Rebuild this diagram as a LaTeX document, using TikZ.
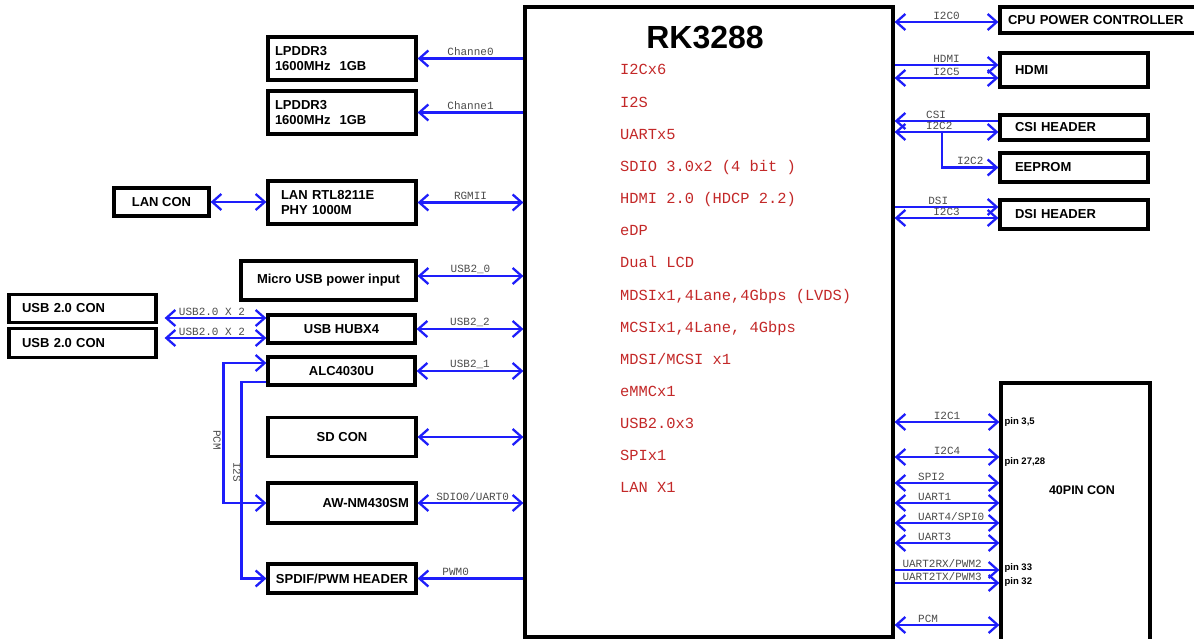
\documentclass[tikz,border=0pt]{standalone}
\usepackage{fontspec}
\setmainfont{Liberation Sans}
\newfontfamily\busfont{Liberation Mono}
\usepackage{xcolor}
\usepackage{tikz}
\usetikzlibrary{arrows.meta}
\definecolor{busblue}{RGB}{30,30,250}
\definecolor{featred}{RGB}{195,40,40}
\definecolor{lblgray}{RGB}{75,75,75}
\tikzstyle{blk} = [draw=black, line width=3.2pt, inner sep=0pt, font=\fontsize{13}{15}\selectfont\bfseries]
\tikzstyle{bus} = [draw=busblue, line width=2.3pt]
\tikzstyle{lbl} = [font=\busfont\fontsize{11}{12}\selectfont, text=lblgray, inner sep=1.5pt]
\tikzstyle{feat} = [font=\busfont\fontsize{15.4}{17}\selectfont, text=featred, anchor=base west, inner sep=0pt]
\tikzstyle{pinlbl} = [font=\fontsize{9.5}{11}\selectfont\bfseries, anchor=west, inner sep=5pt]

\begin{document}
\begin{tikzpicture}[x=1pt, y=-1pt, >={Straight Barb[length=9pt,width=16pt]}]
  \useasboundingbox (0,0) rectangle (1194,639);

  \node[blk, minimum width=368pt, minimum height=630pt] (rk) at (709,322) {};
  \node[font=\fontsize{32}{34}\selectfont\bfseries] (rkname) at (705,38) {RK3288};
  \foreach \t [count=\i from 0] in {I2Cx6, I2S, UARTx5, {SDIO 3.0x2 (4 bit )}, {HDMI 2.0 (HDCP 2.2)}, eDP, {Dual LCD},
      {MDSIx1,4Lane,4Gbps (LVDS)}, {MCSIx1,4Lane, 4Gbps}, {MDSI/MCSI x1}, eMMCx1, USB2.0x3, SPIx1, {LAN X1}}
    \node[feat] (f\i) at (620,75+32.15*\i) {\t};

  \node[blk, minimum width=148pt, minimum height=43pt, text width=134pt, inner xsep=7pt, align=left] (ddr0) at (342,58.5) {LPDDR3\\1600MHz\hspace{9pt}1GB};
  \node[blk, minimum width=148pt, minimum height=43pt, text width=134pt, inner xsep=7pt, align=left] (ddr1) at (342,112.5) {LPDDR3\\1600MHz\hspace{9pt}1GB};
  \node[blk, minimum width=148pt, minimum height=43pt, text width=122pt, inner xsep=13pt, align=left] (lanphy) at (342,202.5) {LAN RTL8211E\\PHY 1000M};
  \node[blk, minimum width=95pt, minimum height=28pt] (lancon) at (161.5,202) {LAN CON};
  \node[blk, minimum width=175pt, minimum height=39pt] (microusb) at (328.5,280.5) {Micro USB power input};
  \node[blk, minimum width=147pt, minimum height=28pt, text width=121pt, inner xsep=13pt, align=left] (usb1) at (82.5,308.5) {USB 2.0 CON};
  \node[blk, minimum width=147pt, minimum height=29pt, text width=121pt, inner xsep=13pt, align=left] (usb2) at (82.5,343) {USB 2.0 CON};
  \node[blk, minimum width=147pt, minimum height=28pt] (hub) at (341.5,329) {USB HUBX4};
  \node[blk, minimum width=147pt, minimum height=28pt] (alc) at (341.5,371) {ALC4030U};
  \node[blk, minimum width=148pt, minimum height=39pt] (sdcon) at (342,437) {SD CON};
  \node[blk, minimum width=148pt, minimum height=40pt, text width=134pt, inner xsep=7pt, align=right] (aw) at (342,503) {AW-NM430SM};
  \node[blk, minimum width=148pt, minimum height=29pt] (spdif) at (342,578.5) {SPDIF/PWM HEADER};

  \node[blk, minimum width=215pt, minimum height=26pt, text width=199pt, inner xsep=8pt, align=left] (cpu) at (1107.5,20) {CPU POWER CONTROLLER};
  \node[blk, minimum width=148pt, minimum height=34pt, text width=118pt, inner xsep=15pt, align=left] (hdmi) at (1074,70) {HDMI};
  \node[blk, minimum width=148pt, minimum height=25pt, text width=118pt, inner xsep=15pt, align=left] (csi) at (1074,127.5) {CSI HEADER};
  \node[blk, minimum width=148pt, minimum height=29pt, text width=118pt, inner xsep=15pt, align=left] (eeprom) at (1074,167.5) {EEPROM};
  \node[blk, minimum width=148pt, minimum height=29pt, text width=118pt, inner xsep=15pt, align=left] (dsi) at (1074,214.5) {DSI HEADER};
  \node[blk, minimum width=149pt, minimum height=297pt] (pin) at (1075.5,531.5) {};
  \node[font=\fontsize{12.5}{14}\selectfont\bfseries] (pinname) at (1082,490) {40PIN CON};

  % left side
  \draw[bus,->] (ddr0.east -| rk.west) -- node[lbl,above]{Channe0} (ddr0.east);
  \draw[bus,->] (ddr1.east -| rk.west) -- node[lbl,above]{Channe1} (ddr1.east);
  \draw[bus,<->] (lancon.east) -- (lanphy.west |- lancon.east);
  \draw[bus,<->] (lanphy.east) -- node[lbl,above]{RGMII} (lanphy.east -| rk.west);
  \draw[bus,<->] (microusb.east |- 0,276) -- node[lbl,above]{USB2\_0} (rk.west |- 0,276);
  \draw[bus,<->,shorten <=7pt] (usb1.east |- 0,318) -- node[lbl,above]{USB2.0 X 2} (hub.west |- 0,318);
  \draw[bus,<->,shorten <=7pt] (usb2.east |- 0,338) -- node[lbl,above]{USB2.0 X 2} (hub.west |- 0,338);
  \draw[bus,<->] (hub.east) -- node[lbl,above]{USB2\_2} (hub.east -| rk.west);
  \draw[bus,<->] (alc.east) -- node[lbl,above]{USB2\_1} (alc.east -| rk.west);
  \draw[bus,<->] (sdcon.east) -- (sdcon.east -| rk.west);
  \draw[bus,<->] (aw.east) -- node[lbl,above,pos=0.52]{SDIO0/UART0} (aw.east -| rk.west);
  \draw[bus,->] (spdif.east -| rk.west) -- node[lbl,above,pos=0.64]{PWM0} (spdif.east);
  \draw[bus,<->] (alc.west |- 0,363) -- ++(-43,0) |- (aw.west);
  \draw[bus,->] (alc.west |- 0,382) -- ++(-25,0) |- (spdif.west);
  \node[lbl, rotate=-90] (pcmname) at (217,440) {PCM};
  \node[lbl, rotate=-90] (i2sname) at (237,472) {I2S};

  % right side
  \draw[bus,<->] (rk.east |- 0,22) -- node[lbl,above]{I2C0} (cpu.west |- 0,22);
  \draw[bus,->] (rk.east |- 0,65) -- node[lbl,above]{HDMI} (hdmi.west |- 0,65);
  \draw[bus,<->] (rk.east |- 0,78) -- node[lbl,above]{I2C5} (hdmi.west |- 0,78);
  \draw[bus,<-] (rk.east |- 0,121) -- node[lbl,above,pos=0.4]{CSI} (csi.west |- 0,121);
  \draw[bus,<->] (rk.east |- 0,132) -- node[lbl,above,pos=0.43]{I2C2} (csi.west |- 0,132);
  \coordinate (i2ctap) at (942,132);
  \draw[bus,->] (i2ctap) |- node[lbl,above,pos=0.75]{I2C2} (eeprom.west);
  \draw[bus,->] (rk.east |- 0,207) -- node[lbl,above,pos=0.42]{DSI} (dsi.west |- 0,207);
  \draw[bus,<->] (rk.east |- 0,218) -- node[lbl,above]{I2C3} (dsi.west |- 0,218);

  \foreach \y/\txt in {422/I2C1, 457/I2C4}
    \draw[bus,<->] (rk.east |- 0,\y) -- node[lbl,above]{\txt} (pin.west |- 0,\y);
  \foreach \y/\txt in {483/SPI2, 503/UART1, 523/{UART4/SPI0}, 543/UART3, 625/PCM}
    \draw[bus,<->] (rk.east |- 0,\y) -- node[lbl,above right,pos=0.2]{\txt} (pin.west |- 0,\y);
  \foreach \y/\txt in {570/{UART2RX/PWM2}, 583/{UART2TX/PWM3}}
    \draw[bus,->] (rk.east |- 0,\y) -- node[lbl,above right,pos=0.05]{\txt} (pin.west |- 0,\y);
  \node[pinlbl] (pin1) at (pin.west |- 0,422) {pin 3,5};
  \node[pinlbl] (pin2) at (pin.west |- 0,462) {pin 27,28};
  \node[pinlbl] (pin3) at (pin.west |- 0,568) {pin 33};
  \node[pinlbl] (pin4) at (pin.west |- 0,582) {pin 32};
\end{tikzpicture}
\end{document}
